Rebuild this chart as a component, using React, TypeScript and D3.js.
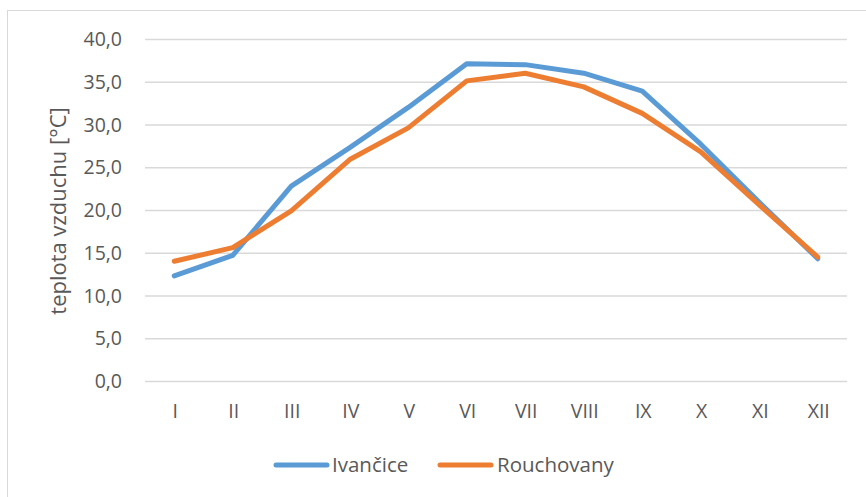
import { useEffect, useRef } from "react"
import * as d3 from "d3"

const months = ["I", "II", "III", "IV", "V", "VI", "VII", "VIII", "IX", "X", "XI", "XII"]
const ivancice = [12.3, 14.7, 22.8, 27.3, 32.0, 37.1, 37.0, 36.0, 33.9, 27.7, 20.9, 14.3]
const rouchovany = [14.0, 15.6, 19.9, 25.9, 29.6, 35.1, 36.0, 34.4, 31.3, 26.8, 20.6, 14.5]
const yTicks = [0, 5, 10, 15, 20, 25, 30, 35, 40]

const series = [
  { name: "Ivančice", values: ivancice, color: "#5B9BD5" },
  { name: "Rouchovany", values: rouchovany, color: "#ED7D31" },
]

const W = 866
const H = 497
const FONT = "'Open Sans', 'Liberation Sans', sans-serif"
const TEXT = "#595959"

export default function App() {
  const svgRef = useRef<SVGSVGElement>(null)

  useEffect(() => {
    if (!svgRef.current) return
    const svg = d3.select(svgRef.current)
    svg.selectAll("*").remove()

    // chart frame (cut off at right and bottom)
    svg.append("rect")
      .attr("x", 7.5).attr("y", 10.5)
      .attr("width", W + 20).attr("height", H + 20)
      .attr("fill", "#fff").attr("stroke", "#D9D9D9")

    const left = 145
    const right = 847
    const top = 39
    const bottom = 381

    const x = d3.scaleBand<string>().domain(months).range([left, right])
    const y = d3.scaleLinear().domain([0, 40]).range([bottom, top])
    const cx = (m: string) => (x(m) ?? 0) + x.bandwidth() / 2

    // gridlines
    svg.append("g")
      .selectAll("line")
      .data(yTicks)
      .join("line")
      .attr("x1", left).attr("x2", right)
      .attr("y1", (d) => y(d) + 0.5).attr("y2", (d) => y(d) + 0.5)
      .attr("stroke", "#D9D9D9").attr("stroke-width", 1.3)

    // y tick labels
    svg.append("g")
      .selectAll("text")
      .data(yTicks)
      .join("text")
      .attr("x", 122).attr("y", (d) => y(d))
      .attr("dy", "0.36em")
      .attr("text-anchor", "end")
      .attr("font-family", FONT).attr("font-size", 19.5)
      .attr("fill", TEXT)
      .text((d) => d3.format(".1f")(d).replace(".", ","))

    // x tick labels
    svg.append("g")
      .selectAll("text")
      .data(months)
      .join("text")
      .attr("x", (d) => cx(d) + 1).attr("y", 418)
      .attr("text-anchor", "middle")
      .attr("font-family", FONT).attr("font-size", 19.5)
      .attr("fill", TEXT)
      .text((d) => d)

    // y axis title
    svg.append("text")
      .attr("transform", `translate(66,${(top + bottom) / 2 + 1}) rotate(-90)`)
      .attr("text-anchor", "middle")
      .attr("font-family", FONT).attr("font-size", 22)
      .attr("fill", TEXT)
      .text("teplota vzduchu [°C]")

    // lines
    const line = d3.line<number>()
      .x((_, i) => cx(months[i]))
      .y((d) => y(d))

    svg.append("g")
      .selectAll("path")
      .data(series)
      .join("path")
      .attr("d", (s) => line(s.values))
      .attr("fill", "none")
      .attr("stroke", (s) => s.color)
      .attr("stroke-width", 5)
      .attr("stroke-linejoin", "round")
      .attr("stroke-linecap", "round")

    // legend
    const legendY = 465
    const items = [
      { x0: 276, x1: 327, tx: 332 },
      { x0: 440, x1: 491, tx: 497 },
    ]
    const lg = svg.append("g")
    series.forEach((s, i) => {
      const it = items[i]
      lg.append("line")
        .attr("x1", it.x0).attr("x2", it.x1)
        .attr("y1", legendY).attr("y2", legendY)
        .attr("stroke", s.color).attr("stroke-width", 5)
        .attr("stroke-linecap", "round")
      lg.append("text")
        .attr("x", it.tx).attr("y", 472)
        .attr("font-family", FONT).attr("font-size", 20.5)
        .attr("fill", TEXT)
        .text(s.name)
    })
  }, [])

  return (
    <svg
      ref={svgRef}
      width={W}
      height={H}
      style={{ position: "absolute", left: 0, top: 0, background: "#fff" }}
    />
  )
}
